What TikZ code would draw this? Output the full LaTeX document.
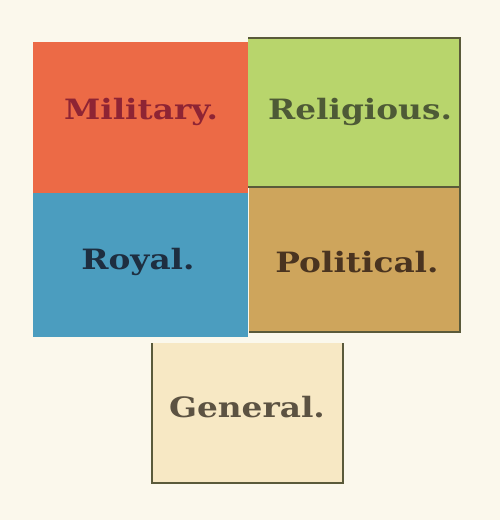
\documentclass[tikz,border=0pt]{standalone}
\usepackage{fontspec}
\setmainfont{DejaVu Serif}
\definecolor{bg}{HTML}{FBF8EC}
\definecolor{milf}{HTML}{EC6A46}
\definecolor{relf}{HTML}{B8D56C}
\definecolor{royf}{HTML}{4B9DBF}
\definecolor{polf}{HTML}{CEA55C}
\definecolor{genf}{HTML}{F7E8C4}
\definecolor{edge}{HTML}{5A5A3A}
\definecolor{milt}{HTML}{8E2434}
\definecolor{relt}{HTML}{4E5A36}
\definecolor{royt}{HTML}{1E2E40}
\definecolor{polt}{HTML}{4A3420}
\definecolor{gent}{HTML}{5C5242}
\tikzset{
  cell/.style={inner sep=0pt, outer sep=0pt, draw=none},
  lab/.style={font=\bfseries\fontsize{28}{30}\selectfont, inner sep=0pt, xscale=1.17},
  rule/.style={draw=edge, line width=1.3pt}
}
\begin{document}
\begin{tikzpicture}[x=1pt,y=-1pt]
\useasboundingbox[fill=bg] (0,0) rectangle (500,520);
% cells
\node[cell, fill=milf, minimum width=215pt, minimum height=151pt, anchor=north west] (mil) at (33,42) {};
\node[cell, fill=relf, minimum width=212pt, minimum height=149pt, anchor=north west] (rel) at (248,38) {};
\node[cell, fill=royf, minimum width=215pt, minimum height=144pt, anchor=north west] (roy) at (33,193) {};
\node[cell, fill=polf, minimum width=211pt, minimum height=145pt, anchor=north west] (pol) at (249,187) {};
\node[cell, fill=genf, minimum width=191pt, minimum height=140pt, anchor=north west] (gen) at (152,343) {};
% rules
\draw[rule] (rel.north west) -- (rel.north east) -- (pol.south east) -- (pol.south west);
\draw[rule] (rel.south west) -- (rel.south east);
\draw[rule] (gen.north west) -- (gen.south west) -- (gen.south east) -- (gen.north east);
% labels
\node[lab, text=milt] (milL) at (141,112) {Military.};
\node[lab, text=relt] (relL) at (360,112) {Religious.};
\node[lab, text=royt] (royL) at (138,262) {Royal.};
\node[lab, text=polt] (polL) at (357,262) {Political.};
\node[lab, text=gent] (genL) at (247,407) {General.};
\end{tikzpicture}
\end{document}
